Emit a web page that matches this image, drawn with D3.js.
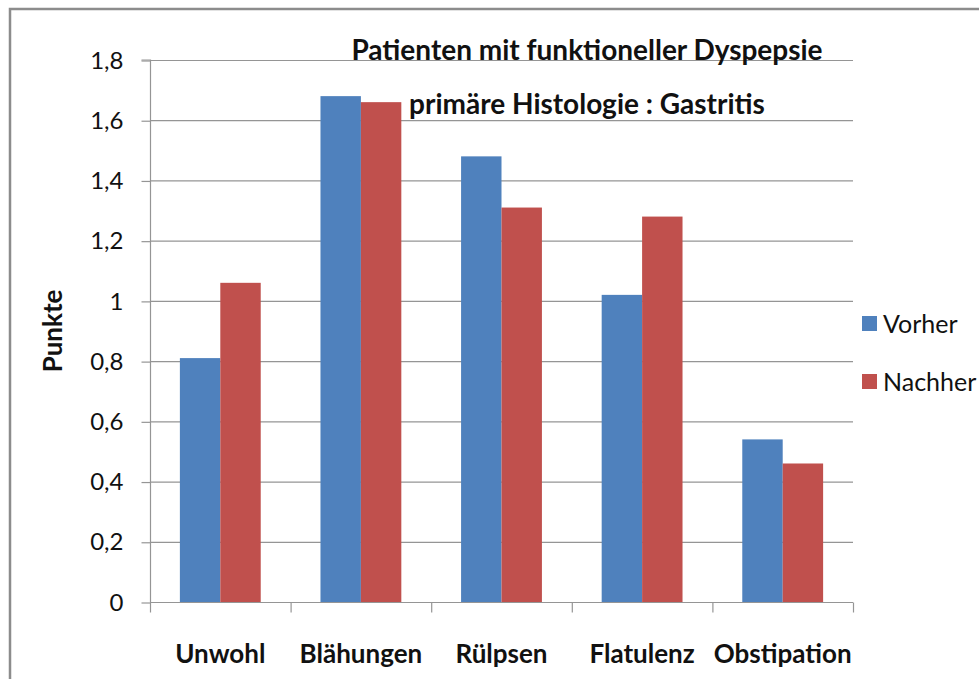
<!DOCTYPE html>
<html><head><meta charset="utf-8">
<script src="https://cdn.jsdelivr.net/npm/d3@7"></script>
<style>body{margin:0;background:#fff}svg{display:block}</style>
</head><body><svg id="c" width="979" height="679"></svg>
<script>
const categories = ["Unwohl","Blähungen","Rülpsen","Flatulenz","Obstipation"];
const vorher = [0.81, 1.68, 1.48, 1.02, 0.54];
const nachher = [1.06, 1.66, 1.31, 1.28, 0.46];
const seriesNames = ["Vorher","Nachher"];
const colors = ["#4F81BD","#C0504D"];
const yTicks = [0,0.2,0.4,0.6,0.8,1,1.2,1.4,1.6,1.8];
const titleLines = ["Patienten mit funktioneller Dyspepsie","primäre Histologie : Gastritis"];

const svg = d3.select("#c");
const font = "Lato, 'Open Sans', sans-serif";
const L=150, R=853, T=60, B=602;
// frame
svg.append("rect").attr("x",10).attr("y",9).attr("width",1000).attr("height",700)
  .attr("fill","none").attr("stroke","#8c8c8c").attr("stroke-width",2.5);

const y = d3.scaleLinear().domain([0,1.8]).range([B,T]);
const x0 = d3.scaleBand().domain(categories).range([L,R]).padding(0);
const bw = x0.bandwidth()*0.2875;
const x1 = d3.scaleBand().domain(seriesNames).range([x0.bandwidth()/2-bw, x0.bandwidth()/2+bw]).padding(0);

// gridlines
svg.append("g").selectAll("line").data(yTicks.filter(d=>d>0)).join("line")
  .attr("x1",L).attr("x2",R).attr("y1",d=>y(d)+0.5).attr("y2",d=>y(d)+0.5)
  .attr("stroke","#959595").attr("stroke-width",1.2);

// y axis
const yAxis = d3.axisLeft(y).tickValues(yTicks).tickSize(9).tickPadding(18)
  .tickFormat(d=>String(d).replace(".",","));
const gy = svg.append("g").attr("transform",`translate(${L+0.5},0.5)`).call(yAxis);
gy.selectAll("line,path").attr("stroke","#959595").attr("stroke-width",1.2);
gy.select(".domain").attr("d",`M-9,${T-0.5}H0V${B-0.5}`);
gy.selectAll("text").attr("font-family",font).attr("font-size",24).attr("fill","#111");

// bars
const data = [vorher, nachher];
categories.forEach((c,i)=>{
  seriesNames.forEach((s,j)=>{
    svg.append("rect").attr("x",x0(c)+x1(s)).attr("width",x1.bandwidth())
      .attr("y",y(data[j][i])).attr("height",B-y(data[j][i])).attr("fill",colors[j]);
  });
});

// x axis
const gx = svg.append("g").attr("transform",`translate(0,${B+0.5})`);
gx.append("line").attr("x1",L).attr("x2",R).attr("stroke","#959595").attr("stroke-width",1.2);
const bounds = categories.map(c=>x0(c)).concat([R]);
gx.selectAll("line.t").data(bounds).join("line").attr("class","t")
  .attr("x1",d=>d+0.5).attr("x2",d=>d+0.5).attr("y1",0).attr("y2",10)
  .attr("stroke","#959595").attr("stroke-width",1.2);
gx.selectAll("text").data(categories).join("text")
  .attr("x",d=>x0(d)+x0.bandwidth()/2).attr("y",60)
  .attr("text-anchor","middle").attr("font-family",font).attr("font-weight","bold")
  .attr("font-size",26).attr("fill","#111").text(d=>d);

// y title
svg.append("text").attr("transform","translate(62,331) rotate(-90)")
  .attr("text-anchor","middle").attr("font-family",font).attr("font-weight","bold")
  .attr("font-size",26).attr("fill","#111").text("Punkte");

// title
titleLines.forEach((t,i)=>{
  svg.append("text").attr("x",587).attr("y",60+i*54).attr("text-anchor","middle")
    .attr("font-family",font).attr("font-weight","bold").attr("font-size",28)
    .attr("fill","#111").text(t);
});

// legend
seriesNames.forEach((s,j)=>{
  const cy = 323.5 + j*58;
  svg.append("rect").attr("x",862).attr("y",cy-7.5).attr("width",15).attr("height",15).attr("fill",colors[j]);
  svg.append("text").attr("x",883).attr("y",cy+9).attr("font-family",font)
    .attr("font-size",25).attr("fill","#111").text(s);
});
</script></body></html>
